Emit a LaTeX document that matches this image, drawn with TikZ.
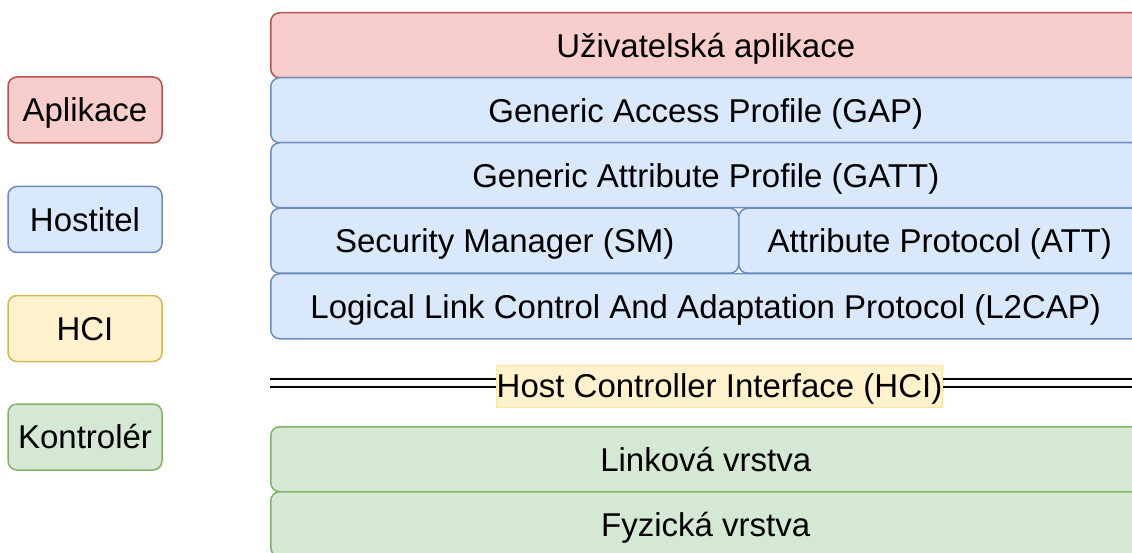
\documentclass[tikz,border=0pt]{standalone}
\usepackage{fontspec}
\setmainfont{Liberation Sans}
\definecolor{appfill}{HTML}{F8CECC}
\definecolor{appline}{HTML}{B85450}
\definecolor{hostfill}{HTML}{DAE8FC}
\definecolor{hostline}{HTML}{6C8EBF}
\definecolor{hcifill}{HTML}{FFF2CC}
\definecolor{hciline}{HTML}{D6B656}
\definecolor{hcilight}{HTML}{FFE599}
\definecolor{ctrlfill}{HTML}{D5E8D4}
\definecolor{ctrlline}{HTML}{82B366}
\begin{document}
\begin{tikzpicture}[x=1pt,y=-1pt,
    label font/.style={font=\fontsize{33}{38}\selectfont, text height=23.6pt, text depth=0pt},
    layer/.style={draw, rounded corners=9pt, line width=1.5pt, anchor=north west,
      minimum height=65pt, inner sep=0pt, label font},
    legend/.style={layer, anchor=center, minimum width=154pt, minimum height=66pt},
    app/.style={fill=appfill, draw=appline},
    host/.style={fill=hostfill, draw=hostline},
    hci/.style={fill=hcifill, draw=hciline},
    ctrl/.style={fill=ctrlfill, draw=ctrlline}]
    \useasboundingbox (0,0) rectangle (1132,553);
    \clip (0,0) rectangle (1132,553);

    % legend
    \node[legend, app]  (lapp)  at (85,110)   {Aplikace};
    \node[legend, host] (lhost) at (85,219.5) {Hostitel};
    \node[legend, hci]  (lhci)  at (85,328.5) {HCI};
    \node[legend, ctrl] (lctrl) at (85,437)   {Kontrolér};

    % host stack
    \node[layer, app, minimum width=870pt]  (user) at (270,12)  {Uživatelská aplikace};
    \node[layer, host, minimum width=870pt] (gap)  at (270,77)  {Generic Access Profile (GAP)};
    \node[layer, host, minimum width=870pt] (gatt) at (270,142) {Generic Attribute Profile (GATT)};
    \node[layer, host, minimum width=468pt] (sm)   at (270,207.5) {Security Manager (SM)};
    \node[layer, host, minimum width=402pt] (att)  at (738,207.5) {Attribute Protocol (ATT)};
    \node[layer, host, minimum width=870pt] (l2cap) at (270,273) {Logical Link Control And Adaptation Protocol (L2CAP)};

    % HCI
    \node[fill=hcifill, draw=hcilight, line width=1pt, inner sep=0pt, minimum width=445pt,
      minimum height=42pt, label font] (hcilabel) at (719.5,386) {Host Controller Interface (HCI)};
    \coordinate (hcileft) at (270,383);
    \coordinate (hciright) at (1140,383);
    \draw[double, double distance=5.5pt, line width=1.8pt] (hcileft) -- (hcilabel.west |- hcileft);
    \draw[double, double distance=5.5pt, line width=1.8pt] (hcilabel.east |- hciright) -- (hciright);

    % controller
    \node[layer, ctrl, minimum width=870pt] (link) at (270,426) {Linková vrstva};
    \node[layer, ctrl, minimum width=870pt] (phy)  at (270,491) {Fyzická vrstva};
\end{tikzpicture}
\end{document}
